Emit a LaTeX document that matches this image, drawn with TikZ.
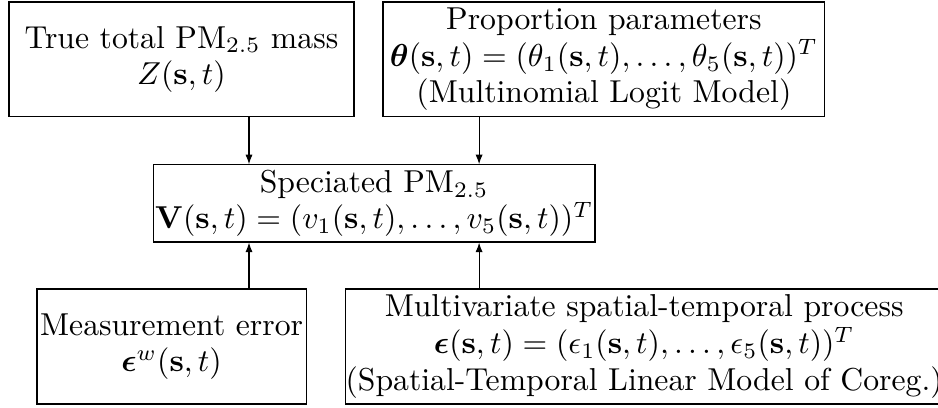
\RequirePackage{fix-cm}
\documentclass[tikz,border=0pt]{standalone}
\usepackage{amsmath}
\usepackage{amssymb}
\usepackage{tikz}
\usetikzlibrary{arrows.meta,positioning}

\tikzset{
    modelbox/.style={draw, align=center, inner sep=0pt, line width=0.4pt,
        font=\fontsize{10.57}{12.2}\selectfont},
    flow/.style={-{Latex[length=3.2pt,width=2.4pt]}, line width=0.4pt}
}

\begin{document}
\begin{tikzpicture}[x=1pt, y=1pt]
    % 1. Fix the page size first
    \useasboundingbox (0,0) rectangle (312.67,-136);

    % 2. The two boxes on top
    \node[modelbox, minimum width=115pt, minimum height=38.3pt] (total) at (60.5,-19.8)
        {True total PM$_{2.5}$ mass\\ $Z(\mathbf{s},t)$};
    \node[modelbox, minimum width=147.3pt, minimum height=38.3pt] (prop) at (201.3,-19.8)
        {Proportion parameters\\
         $\boldsymbol{\theta}(\mathbf{s},t) = (\theta_1(\mathbf{s},t),\ldots,\theta_5(\mathbf{s},t))^T$\\
         (Multinomial Logit Model)};

    % 3. The speciated box in the middle
    \node[modelbox, minimum width=147.3pt, minimum height=25.7pt] (spec) at (124.7,-67.8)
        {Speciated PM$_{2.5}$\\
         $\mathbf{V}(\mathbf{s},t) = (v_1(\mathbf{s},t),\ldots,v_5(\mathbf{s},t))^T$};

    % 4. The two boxes below
    \node[modelbox, minimum width=89.7pt, minimum height=38.3pt] (meas) at (57.2,-115.5)
        {Measurement error\\ $\boldsymbol{\epsilon}^w(\mathbf{s},t)$};
    \node[modelbox, minimum width=198.5pt, minimum height=38.3pt, anchor=west] (proc) at (115,-115.5)
        {Multivariate spatial-temporal process\\
         $\boldsymbol{\epsilon}(\mathbf{s},t) = (\epsilon_1(\mathbf{s},t),\ldots,\epsilon_5(\mathbf{s},t))^T$\\
         (Spatial-Temporal Linear Model of Coreg.)};

    % 5. Arrows into the speciated box
    \coordinate (colL) at (83,0);
    \coordinate (colR) at (159.7,0);
    \draw[flow] (total.south -| colL) -- (spec.north -| colL);
    \draw[flow] (prop.south -| colR) -- (spec.north -| colR);
    \draw[flow] (meas.north -| colL) -- (spec.south -| colL);
    \draw[flow] (proc.north -| colR) -- (spec.south -| colR);
\end{tikzpicture}
\end{document}
